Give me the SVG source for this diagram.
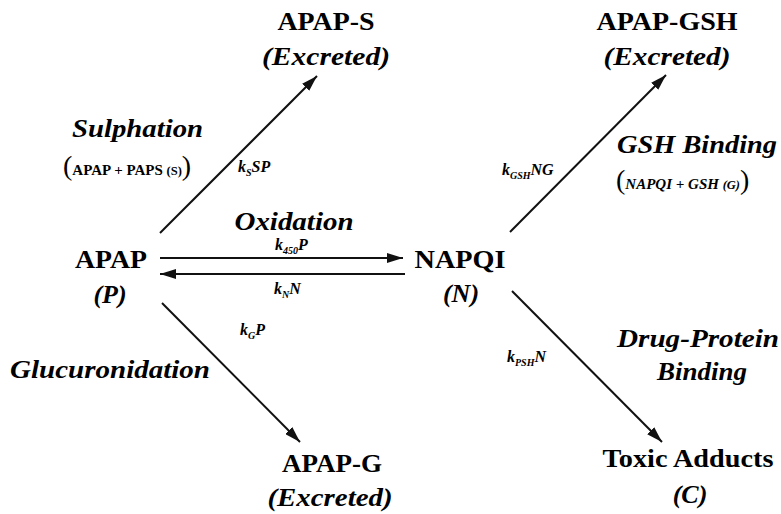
<svg xmlns="http://www.w3.org/2000/svg" width="781" height="514" viewBox="0 0 781 514">
<defs>
<marker id="ah" markerUnits="userSpaceOnUse" markerWidth="18" markerHeight="10" refX="16" refY="5" orient="auto">
<path d="M0,0 L16,5 L0,10 z" fill="#111"/>
</marker>
</defs>
<rect width="781" height="514" fill="#fff"/>
<g id="connectors" stroke="#111" stroke-width="2" fill="none" marker-end="url(#ah)">
<line x1="160" y1="233" x2="317" y2="76"/>
<line x1="510" y1="232" x2="666" y2="75"/>
<line x1="160" y1="258" x2="403" y2="258"/>
<line x1="405" y1="274" x2="160" y2="274"/>
<line x1="162" y1="303" x2="300" y2="442"/>
<line x1="512" y1="291" x2="662" y2="442"/>
</g>
<g id="labels">
<text font-family="Liberation Serif, serif" font-size="26" font-weight="bold" font-style="italic" x="72" y="137" textLength="131" lengthAdjust="spacingAndGlyphs">Sulphation</text>
<text font-family="Liberation Serif, serif" font-size="26" font-weight="bold" font-style="italic" x="294" y="230" text-anchor="middle" textLength="119" lengthAdjust="spacingAndGlyphs">Oxidation</text>
<text font-family="Liberation Serif, serif" font-size="26" font-weight="bold" font-style="italic" x="10" y="378" textLength="200" lengthAdjust="spacingAndGlyphs">Glucuronidation</text>
<text font-family="Liberation Serif, serif" font-size="26" font-weight="bold" font-style="italic" x="617" y="153" textLength="160" lengthAdjust="spacingAndGlyphs">GSH Binding</text>
<text font-family="Liberation Serif, serif" font-size="26" font-weight="bold" font-style="italic" x="617" y="347" textLength="162" lengthAdjust="spacingAndGlyphs">Drug-Protein</text>
<text font-family="Liberation Serif, serif" font-size="26" font-weight="bold" font-style="italic" x="702" y="380" text-anchor="middle" textLength="90" lengthAdjust="spacingAndGlyphs">Binding</text>
<text font-family="Liberation Serif, serif" font-size="15" font-weight="bold" x="63" y="175"><tspan font-size="28" font-weight="normal">(</tspan><tspan>APAP + PAPS </tspan><tspan font-size="12.5">(S)</tspan><tspan font-size="28" font-weight="normal">)</tspan></text>
<text font-family="Liberation Serif, serif" font-size="15" font-weight="bold" x="616" y="189"><tspan font-size="28" font-weight="normal">(</tspan><tspan font-style="italic">NAPQI + GSH </tspan><tspan font-size="12.5" font-style="italic">(G)</tspan><tspan font-size="28" font-weight="normal">)</tspan></text>
<text font-family="Liberation Serif, serif" font-size="16" font-weight="bold" font-style="italic" x="238" y="172">k<tspan font-size="10" dy="4">S</tspan><tspan dy="-4">SP</tspan></text>
<text font-family="Liberation Serif, serif" font-size="16" font-weight="bold" font-style="italic" x="275" y="250">k<tspan font-size="10" dy="4">450</tspan><tspan dy="-4">P</tspan></text>
<text font-family="Liberation Serif, serif" font-size="16" font-weight="bold" font-style="italic" x="274" y="294">k<tspan font-size="10" dy="4">N</tspan><tspan dy="-4">N</tspan></text>
<text font-family="Liberation Serif, serif" font-size="16" font-weight="bold" font-style="italic" x="240" y="335">k<tspan font-size="10" dy="4">G</tspan><tspan dy="-4">P</tspan></text>
<text font-family="Liberation Serif, serif" font-size="16" font-weight="bold" font-style="italic" x="502" y="175">k<tspan font-size="10" dy="4">GSH</tspan><tspan dy="-4">NG</tspan></text>
<text font-family="Liberation Serif, serif" font-size="16" font-weight="bold" font-style="italic" x="507" y="362">k<tspan font-size="10" dy="4">PSH</tspan><tspan dy="-4">N</tspan></text>
</g>
<g id="node-apap-s">
<text font-family="Liberation Serif, serif" font-size="26" font-weight="bold" text-anchor="middle" x="326" y="30" textLength="97" lengthAdjust="spacingAndGlyphs">APAP-S</text>
<text font-family="Liberation Serif, serif" font-size="26" font-weight="bold" font-style="italic" text-anchor="middle" x="326" y="65" textLength="128" lengthAdjust="spacingAndGlyphs">(Excreted)</text>
</g>
<g id="node-apap-gsh">
<text font-family="Liberation Serif, serif" font-size="26" font-weight="bold" text-anchor="middle" x="667" y="30" textLength="141" lengthAdjust="spacingAndGlyphs">APAP-GSH</text>
<text font-family="Liberation Serif, serif" font-size="26" font-weight="bold" font-style="italic" text-anchor="middle" x="667" y="65" textLength="127" lengthAdjust="spacingAndGlyphs">(Excreted)</text>
</g>
<g id="node-apap">
<text font-family="Liberation Serif, serif" font-size="26" font-weight="bold" text-anchor="middle" x="111" y="268" textLength="72" lengthAdjust="spacingAndGlyphs">APAP</text>
<text font-family="Liberation Serif, serif" font-size="26" font-weight="bold" font-style="italic" text-anchor="middle" x="110" y="303">(P)</text>
</g>
<g id="node-napqi">
<text font-family="Liberation Serif, serif" font-size="26" font-weight="bold" text-anchor="middle" x="460" y="268" textLength="91" lengthAdjust="spacingAndGlyphs">NAPQI</text>
<text font-family="Liberation Serif, serif" font-size="26" font-weight="bold" font-style="italic" text-anchor="middle" x="461" y="302">(N)</text>
</g>
<g id="node-apap-g">
<text font-family="Liberation Serif, serif" font-size="26" font-weight="bold" text-anchor="middle" x="332" y="472" textLength="100" lengthAdjust="spacingAndGlyphs">APAP-G</text>
<text font-family="Liberation Serif, serif" font-size="26" font-weight="bold" font-style="italic" text-anchor="middle" x="330" y="506" textLength="125" lengthAdjust="spacingAndGlyphs">(Excreted)</text>
</g>
<g id="node-toxic">
<text font-family="Liberation Serif, serif" font-size="26" font-weight="bold" text-anchor="middle" x="688" y="467" textLength="171" lengthAdjust="spacingAndGlyphs">Toxic Adducts</text>
<text font-family="Liberation Serif, serif" font-size="26" font-weight="bold" font-style="italic" text-anchor="middle" x="690" y="503">(C)</text>
</g>
</svg>
